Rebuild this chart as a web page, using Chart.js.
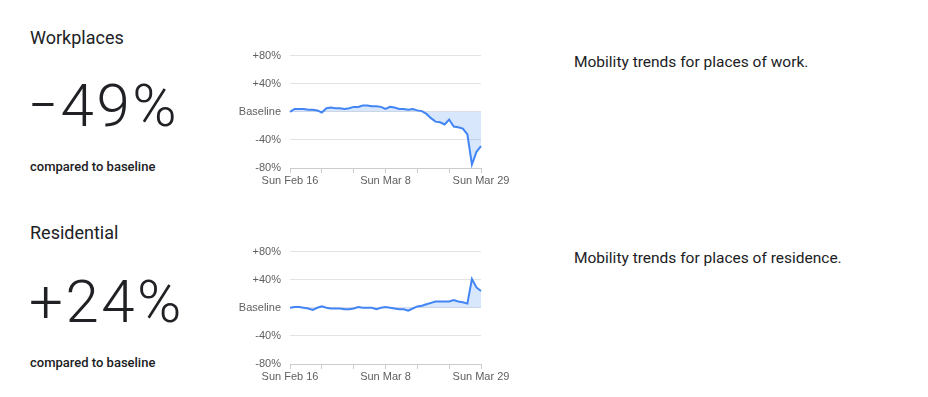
<!DOCTYPE html>
<html>
<head>
<meta charset="utf-8">
<script src="https://cdn.jsdelivr.net/npm/chart.js@4"></script>
<style>
  html, body { margin: 0; padding: 0; background: #fff; }
  body { width: 928px; height: 397px; position: relative; overflow: hidden; font-family: Roboto, "Open Sans", sans-serif; color: #202124; }
  .title { position: absolute; left: 30px; font-size: 18px; font-weight: 400; line-height: 1; }
  .big { position: absolute; left: 29px; font-size: 60px; font-weight: 300; line-height: 1; letter-spacing: 2.5px; }
  .dash { display: inline-block; transform: scaleX(0.72); transform-origin: left center; margin-right: -10px; }
  .cmp { position: absolute; left: 30px; font-size: 13px; font-weight: 500; line-height: 1; }
  .desc { position: absolute; left: 574px; font-size: 15.5px; font-weight: 400; line-height: 1; }
  canvas { position: absolute; }
</style>
</head>
<body>
<div class="title" style="top:29px">Workplaces</div>
<div class="big" style="top:76px"><span class="dash">&ndash;</span>49%</div>
<div class="cmp" style="top:160px">compared to baseline</div>
<div class="desc" style="top:55px">Mobility trends for places of work.</div>
<canvas id="c1" width="300" height="150" style="left:220px;top:40px;width:300px;height:150px"></canvas>

<div class="title" style="top:224px">Residential</div>
<div class="big" style="top:272px">+24%</div>
<div class="cmp" style="top:356px">compared to baseline</div>
<div class="desc" style="top:251px">Mobility trends for places of residence.</div>
<canvas id="c2" width="300" height="150" style="left:220px;top:236px;width:300px;height:150px"></canvas>

<script>
const categories = [
  'Sun Feb 16','Mon Feb 17','Tue Feb 18','Wed Feb 19','Thu Feb 20','Fri Feb 21','Sat Feb 22',
  'Sun Feb 23','Mon Feb 24','Tue Feb 25','Wed Feb 26','Thu Feb 27','Fri Feb 28','Sat Feb 29',
  'Sun Mar 1','Mon Mar 2','Tue Mar 3','Wed Mar 4','Thu Mar 5','Fri Mar 6','Sat Mar 7',
  'Sun Mar 8','Mon Mar 9','Tue Mar 10','Wed Mar 11','Thu Mar 12','Fri Mar 13','Sat Mar 14',
  'Sun Mar 15','Mon Mar 16','Tue Mar 17','Wed Mar 18','Thu Mar 19','Fri Mar 20','Sat Mar 21',
  'Sun Mar 22','Mon Mar 23','Tue Mar 24','Wed Mar 25','Thu Mar 26','Fri Mar 27','Sat Mar 28',
  'Sun Mar 29'
];
const workplaces = [
  0, 4, 4, 4, 3, 3, 2,
  -1, 5, 6, 5, 5, 4, 5,
  7, 7, 9, 9, 8, 8, 7,
  4, 7, 6, 4, 4, 3, 4,
  2, 1, -3, -9, -14, -15, -18,
  -11, -21, -22, -24, -32, -75, -57,
  -49
];
const residential = [
  0, 1, 1, 0, -1, -3, 0,
  2, 0, -1, -1, -1, -2, -2,
  -1, 1, 0, 0, 0, -2, 0,
  1, 0, -1, -2, -2, -4, -1,
  2, 3, 5, 7, 9, 9, 9,
  9, 11, 9, 8, 6, 41, 29,
  24
];
const labeledTicks = ['Sun Feb 16', 'Sun Mar 8', 'Sun Mar 29'];
const yTickValues = [-80, -40, 0, 40, 80];
const yTickLabels = ['-80%', '-40%', 'Baseline', '+40%', '+80%'];

function makeChart(id, values) {
  new Chart(document.getElementById(id), {
    type: 'line',
    data: {
      labels: categories,
      datasets: [{
        data: values,
        borderColor: '#4285f4',
        borderWidth: 2,
        backgroundColor: 'rgba(66,133,244,0.2)',
        fill: 'origin',
        pointRadius: 0,
        tension: 0
      }]
    },
    options: {
      responsive: false,
      animation: false,
      devicePixelRatio: 1,
      layout: { padding: { top: 14, right: 39, bottom: 0, left: 0 } },
      plugins: { legend: { display: false }, tooltip: { enabled: false } },
      scales: {
        x: {
          type: 'category',
          offset: false,
          grid: {
            drawOnChartArea: false,
            drawTicks: true,
            tickLength: 5,
            color: (ctx) => (categories[ctx.index] || '').startsWith('Sun') ? '#cccccc' : 'rgba(0,0,0,0)'
          },
          border: { display: true, color: '#cccccc', width: 1 },
          ticks: {
            autoSkip: false,
            maxRotation: 0,
            padding: 1,
            color: '#5f5f5f',
            font: { family: 'Arial, "Liberation Sans"', size: 11 },
            callback: function (v, i) {
              const l = categories[i];
              return labeledTicks.includes(l) ? l : '';
            }
          },
          afterFit: (s) => { s.height = 22; }
        },
        y: {
          min: -80,
          max: 80,
          afterBuildTicks: (s) => { s.ticks = yTickValues.map(v => ({ value: v })); },
          grid: { color: '#e3e3e3', drawTicks: false, lineWidth: 1 },
          border: { display: false },
          ticks: {
            padding: 9,
            color: '#5f5f5f',
            font: { family: 'Arial, "Liberation Sans"', size: 11 },
            callback: (v) => yTickLabels[yTickValues.indexOf(v)]
          },
          afterFit: (s) => { s.width = 70; }
        }
      }
    }
  });
}
makeChart('c1', workplaces);
makeChart('c2', residential);
</script>
</body>
</html>
